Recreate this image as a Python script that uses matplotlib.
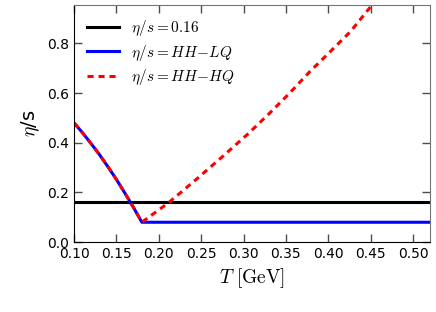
import numpy as np
import matplotlib
matplotlib.use('Agg')
from matplotlib import pyplot as plt

plt.rcParams['mathtext.fontset'] = 'cm'

# eta/s values
T_low = [0.100, 0.110, 0.120, 0.130, 0.140, 0.150, 0.160, 0.170, 0.180]
eta_low = [0.480, 0.440, 0.397, 0.352, 0.303, 0.252, 0.197, 0.140, 0.080]

T_lq = [0.180, 0.52]
eta_lq = [0.080, 0.080]

T_hq = [0.180, 0.212, 0.245, 0.276, 0.305, 0.331, 0.355, 0.378, 0.402, 0.426, 0.450, 0.46]
eta_hq = [0.080, 0.160, 0.255, 0.347, 0.435, 0.520, 0.602, 0.686, 0.766, 0.847, 0.948, 0.99]

eta_const = 0.16

fig = plt.figure(figsize=(4.36, 3.12), dpi=100)
ax = fig.add_axes([0.170, 0.224, 0.816, 0.760])

ax.axhline(eta_const, color='black', lw=2.2, label=r'$\eta/s=0.16$')
ax.plot(T_low + T_lq[1:], eta_low + eta_lq[1:], color='blue', lw=2.2,
        label=r'$\eta/s=HH\!-\!LQ$')
ax.plot(T_low + T_hq[1:], eta_low + eta_hq[1:], color='red', lw=2.2,
        dashes=(2, 1.6), label=r'$\eta/s=HH\!-\!HQ$')

xt = np.arange(0.10, 0.51, 0.05)
yt = [0.0, 0.2, 0.4, 0.6, 0.8]
ax.set_xlim(0.10, 0.52)
ax.set_ylim(0.0, 0.955)
ax.set_xticks(xt)
ax.set_yticks(yt)
ax.set_xticklabels(['%.2f' % t for t in xt])
ax.set_yticklabels(['%.1f' % v for v in yt])
ax.tick_params(which='major', direction='in', top=True, right=True,
               length=6, width=1, color='0.3', labelsize=10)
for s in ['top', 'right']:
    ax.spines[s].set_color('0.45')

ax.set_xlabel(r'$T\ [\mathrm{GeV}]$', fontsize=14)
ax.set_ylabel(r'$\eta$/s', fontsize=14)

ax.legend(loc='upper left', frameon=False, fontsize=11, handlelength=2.1,
          labelspacing=0.3, borderaxespad=0.45)

fig.savefig('out.png', dpi=100)
